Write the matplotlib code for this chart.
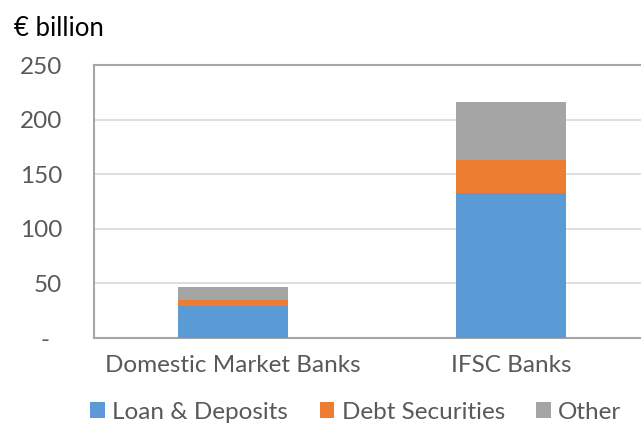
import matplotlib.pyplot as plt
import numpy as np

# balance sheet composition, € billion
categories = ["Domestic Market Banks", "IFSC Banks"]
loans = [29.3, 132.8]
debt = [5.7, 30.5]
other = [12.0, 53.1]
series_names = ["Loan & Deposits", "Debt Securities", "Other"]
colors = ["#5B9BD5", "#ED7D31", "#A5A5A5"]
yticks = [0, 50, 100, 150, 200, 250]
ytick_labels = ["-  ", "50", "100", "150", "200", "250"]

plt.rcParams['font.family'] = ['Lato', 'DejaVu Sans']

fig = plt.figure(figsize=(6.41, 4.23), dpi=100)
ax = fig.add_axes([94 / 641, 1 - 338 / 423, 556 / 641, 273 / 423])

x = np.arange(len(categories))
w = 0.396
bottom = np.zeros(len(categories))
for vals, name, c in zip([loans, debt, other], series_names, colors):
    ax.bar(x, vals, w, bottom=bottom, color=c, label=name, zorder=3)
    bottom += np.array(vals)

ax.set_xlim(-0.5, 1.5)
ax.set_ylim(0, 250)
ax.set_yticks(yticks)
ax.set_yticklabels(ytick_labels)
ax.set_xticks(x)
ax.set_xticklabels(categories)
ax.grid(axis='y', color='#D9D9D9', linewidth=1.2, zorder=0)
for s in ax.spines.values():
    s.set_color('#A6A6A6')
    s.set_linewidth(1.5)
ax.tick_params(axis='y', length=0, pad=23, labelsize=17.5, labelcolor='#595959')
ax.tick_params(axis='x', length=0, pad=12, labelsize=17.5, labelcolor='#595959')

fig.text(14 / 641, 1 - 28 / 423, "€ billion", fontsize=18.5, color='black', va='center')

handles, labels = ax.get_legend_handles_labels()
fig.legend(handles, labels, loc='center', bbox_to_anchor=(356 / 641, 1 - 412 / 423),
           ncol=3, frameon=False, fontsize=17.5, labelcolor='#595959',
           handlelength=0.6, handleheight=0.6, handletextpad=0.3, columnspacing=1.3)

fig.savefig("out.png", dpi=100)
